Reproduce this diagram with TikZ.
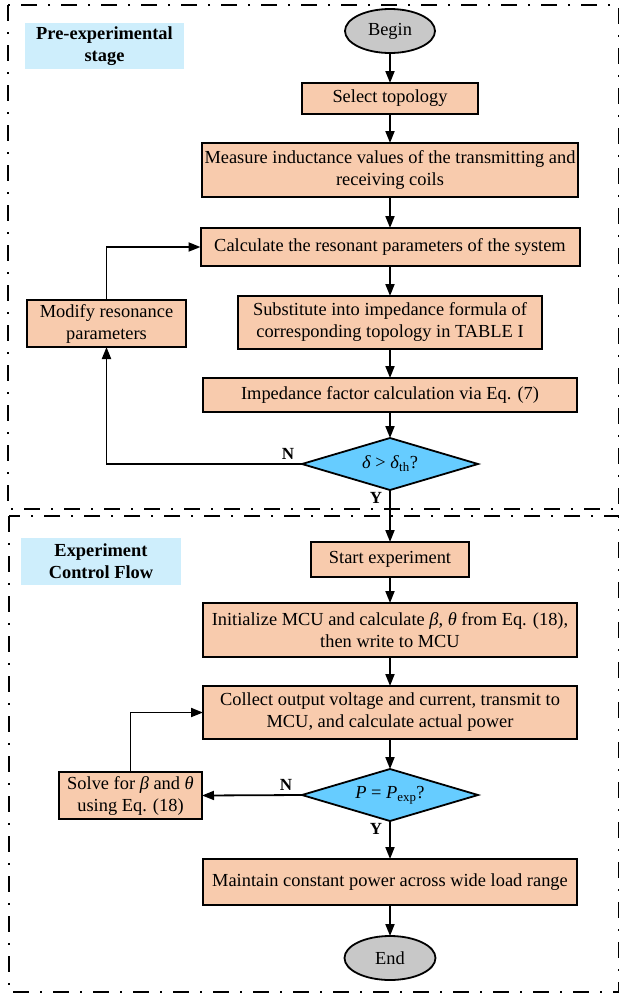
\documentclass[tikz,border=0pt]{standalone}
\usepackage{fontspec}
\setmainfont{Liberation Serif}
\usepackage{xcolor}
\usepackage{tikz}
\usetikzlibrary{arrows.meta,positioning,shapes.geometric}
\definecolor{procfill}{RGB}{248,203,173}
\definecolor{decfill}{RGB}{102,204,255}
\definecolor{termfill}{RGB}{200,200,200}
\definecolor{stagefill}{RGB}{206,238,252}

\begin{document}
\begin{tikzpicture}[
  font=\fontsize{18.4}{22}\selectfont,
  proc/.style={draw,line width=2pt,fill=procfill,align=center,inner sep=2pt,outer sep=0pt},
  term/.style={ellipse,draw,line width=1.8pt,fill=termfill,minimum width=90pt,minimum height=44pt,inner sep=0pt,outer sep=0pt},
  decision/.style={diamond,draw,line width=1.8pt,fill=decfill,aspect=3.4,minimum width=176pt,minimum height=52pt,inner sep=0pt,outer sep=0pt},
  stagelbl/.style={fill=stagefill,align=center,font=\fontsize{18.4}{22}\selectfont\bfseries},
  stageframe/.style={line width=1.5pt,dash pattern=on 16pt off 11pt on 2pt off 11pt},
  yn/.style={font=\fontsize{17}{20}\selectfont\bfseries,inner sep=1pt},
  arrow/.style={-{Triangle[length=12pt,width=9pt]},line width=1.8pt}
]
\useasboundingbox (0,0) rectangle (621pt,-999pt);
\draw[stageframe] (8pt,-5pt) rectangle (618.5pt,-509pt);
\draw[stageframe] (9pt,-516pt) rectangle (618.5pt,-992pt);
\node[stagelbl,minimum width=159pt,minimum height=46pt] (pre) at (104.5pt,-46pt) {Pre-experimental\\stage};
\node[stagelbl,minimum width=160pt,minimum height=47pt] (exp) at (101pt,-561.5pt) {Experiment\\Control Flow};

% pre-experimental stage
\node[term] (begin) at (390pt,-31pt) {Begin};
\node[proc,below=30pt of begin,minimum width=176pt,minimum height=31pt] (select) {Select topology};
\node[proc,below=29pt of select,minimum width=376pt,minimum height=54pt] (measure) {Measure inductance values of the transmitting and\\receiving coils};
\node[proc,below=31pt of measure,minimum width=379pt,minimum height=38pt] (calc) {Calculate the resonant parameters of the system};
\node[proc,below=30pt of calc,minimum width=304pt,minimum height=53pt] (subst) {Substitute into impedance formula of\\corresponding topology in TABLE I};
\node[proc,below=29pt of subst,minimum width=374pt,minimum height=34pt] (imped) {Impedance factor calculation via Eq. (7)};
\node[decision,below=26pt of imped] (check) {\textit{δ} > \textit{δ}\textsubscript{th}?};
\node[proc,minimum width=159pt,minimum height=47pt] (modify) at (106.5pt,-323.5pt) {Modify resonance\\parameters};

% experiment control flow
\node[proc,below=52pt of check,minimum width=158pt,minimum height=35pt] (start) {Start experiment};
\node[proc,below=26pt of start,minimum width=374pt,minimum height=54pt] (init) {Initialize MCU and calculate \textit{β}, \textit{θ} from Eq. (18),\\then write to MCU};
\node[proc,below=29pt of init,minimum width=374pt,minimum height=53pt] (collect) {Collect output voltage and current, transmit to\\MCU, and calculate actual power};
\node[decision,below=30pt of collect] (power) {\textit{P} = \textit{P}\textsubscript{exp}?};
\node[proc,below=38pt of power,minimum width=374pt,minimum height=46pt] (maintain) {Maintain constant power across wide load range};
\node[term,below=31pt of maintain,minimum width=91pt] (end) {End};
\node[proc,minimum width=143pt,minimum height=47pt] (solve) at (130.5pt,-795.5pt) {Solve for \textit{β} and \textit{θ}\\using Eq. (18)};

\draw[arrow] (begin) -- (select);
\draw[arrow] (select) -- (measure);
\draw[arrow] (measure) -- (calc);
\draw[arrow] (calc) -- (subst);
\draw[arrow] (subst) -- (imped);
\draw[arrow] (imped) -- (check);
\draw[arrow] (check.west) node[yn,anchor=south east,xshift=-6pt,yshift=3pt] {N} -| (modify.south);
\draw[arrow] (modify.north) |- (calc.west);
\draw[arrow] (check.south) node[yn,anchor=north east,xshift=-6pt] {Y} -- (start);
\draw[arrow] (start) -- (init);
\draw[arrow] (init) -- (collect);
\draw[arrow] (collect) -- (power);
\draw[arrow] (power.west) node[yn,anchor=south east,xshift=-8pt,yshift=3pt] {N} -- (solve.east);
\draw[arrow] (solve.north) |- (collect.west);
\draw[arrow] (power.south) node[yn,anchor=north east,xshift=-6pt] {Y} -- (maintain);
\draw[arrow] (maintain) -- (end);
\end{tikzpicture}
\end{document}
